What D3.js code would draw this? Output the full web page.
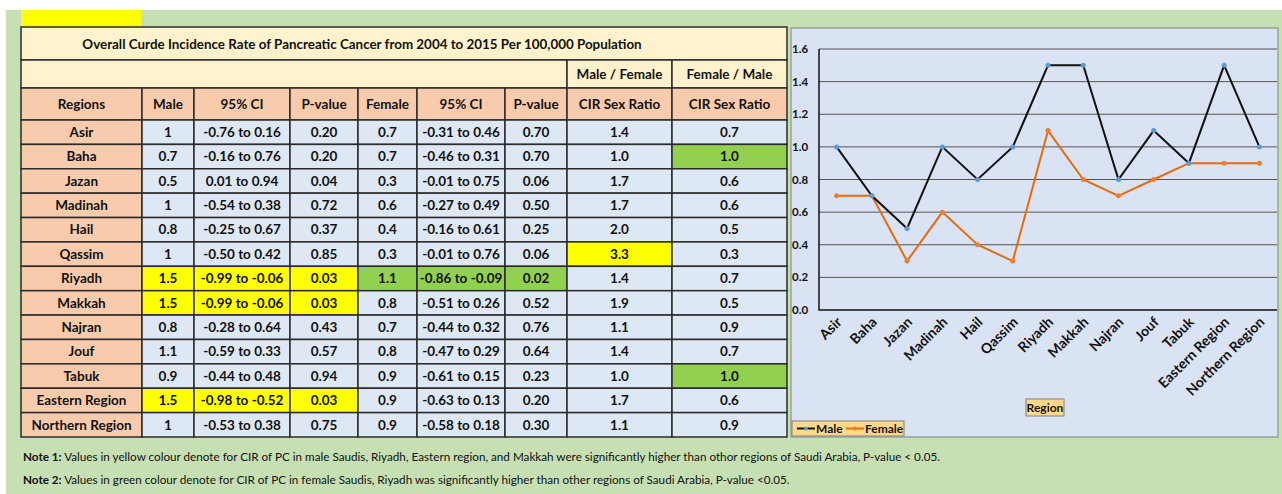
<!DOCTYPE html>
<html>
<head>
  <meta charset="utf-8">
  <title>Pancreatic Cancer CIR by Region</title>
  <script src="https://d3js.org/d3.v7.min.js"></script>
  <style>
    body { margin: 0; background: #fff; }
    text { font-family: Lato, "Open Sans", sans-serif; fill: #111; }
    .cell { stroke: #2b2b2b; stroke-width: 1.5px; }
    .grid line { stroke: #555; stroke-width: 1px; }
  </style>
</head>
<body>
  <script>
    const regions = ["Asir", "Baha", "Jazan", "Madinah", "Hail", "Qassim", "Riyadh", "Makkah", "Najran", "Jouf", "Tabuk", "Eastern Region", "Northern Region"];
    const male = [1, 0.7, 0.5, 1, 0.8, 1, 1.5, 1.5, 0.8, 1.1, 0.9, 1.5, 1];
    const maleCI = ["-0.76 to 0.16", "-0.16 to 0.76", "0.01 to 0.94", "-0.54 to 0.38", "-0.25 to 0.67", "-0.50 to 0.42", "-0.99 to -0.06", "-0.99 to -0.06", "-0.28 to 0.64", "-0.59 to 0.33", "-0.44 to 0.48", "-0.98 to -0.52", "-0.53 to 0.38"];
    const maleP = ["0.20", "0.20", "0.04", "0.72", "0.37", "0.85", "0.03", "0.03", "0.43", "0.57", "0.94", "0.03", "0.75"];
    const female = [0.7, 0.7, 0.3, 0.6, 0.4, 0.3, 1.1, 0.8, 0.7, 0.8, 0.9, 0.9, 0.9];
    const femaleCI = ["-0.31 to 0.46", "-0.46 to 0.31", "-0.01 to 0.75", "-0.27 to 0.49", "-0.16 to 0.61", "-0.01 to 0.76", "-0.86 to -0.09", "-0.51 to 0.26", "-0.44 to 0.32", "-0.47 to 0.29", "-0.61 to 0.15", "-0.63 to 0.13", "-0.58 to 0.18"];
    const femaleP = ["0.70", "0.70", "0.06", "0.50", "0.25", "0.06", "0.02", "0.52", "0.76", "0.64", "0.23", "0.20", "0.30"];
    const ratioMF = ["1.4", "1.0", "1.7", "1.7", "2.0", "3.3", "1.4", "1.9", "1.1", "1.4", "1.0", "1.7", "1.1"];
    const ratioFM = ["0.7", "1.0", "0.6", "0.6", "0.5", "0.3", "0.7", "0.5", "0.9", "0.7", "1.0", "0.6", "0.9"];
    const headers = ["Regions", "Male", "95% CI", "P-value", "Female", "95% CI", "P-value", "CIR Sex Ratio", "CIR Sex Ratio"];
    const yTicks = [0, 0.2, 0.4, 0.6, 0.8, 1.0, 1.2, 1.4, 1.6];

    // highlighted cells
    const yellowMale = ["Riyadh", "Makkah", "Eastern Region"];
    const greenFemale = ["Riyadh"];
    const yellowRatio = ["Qassim"];
    const greenRatio = ["Baha", "Tabuk"];

    const YELLOW = "#ffff00", GREEN = "#92d050", BLUE = "#dde8f4", SALMON = "#f8cbad", CREAM = "#fff2cc";

    const W = 1282, H = 494;
    const svg = d3.select("body").append("svg").attr("width", W).attr("height", H);

    // green background panel + yellow tab
    svg.append("rect").attr("x", 6).attr("y", 10).attr("width", W - 6).attr("height", H - 10).attr("fill", "#c6e0b4");
    svg.append("rect").attr("x", 21).attr("y", 10).attr("width", 120).attr("height", 17).attr("fill", YELLOW);

    // ---- table ----
    const colEdges = [21, 142, 194, 290, 358, 417, 505, 567, 672, 787];
    const tableTop = 27, row1 = 60, row2 = 88, row3 = 120, tableBottom = 437;
    const FS = 13.5;
    const g = svg.append("g");

    const rowY = d3.scaleBand().domain(regions).range([row3, tableBottom]);

    g.append("rect").attr("class", "cell").attr("x", colEdges[0]).attr("y", tableTop)
      .attr("width", colEdges[9] - colEdges[0]).attr("height", row1 - tableTop).attr("fill", CREAM);
    g.append("text").attr("x", 362).attr("y", 44).attr("dy", "0.35em").attr("text-anchor", "middle")
      .attr("font-weight", "bold").attr("font-size", 13.4)
      .text("Overall Curde Incidence Rate of Pancreatic Cancer from 2004 to 2015 Per 100,000 Population");

    g.append("rect").attr("class", "cell").attr("x", colEdges[0]).attr("y", row1)
      .attr("width", colEdges[7] - colEdges[0]).attr("height", row2 - row1).attr("fill", CREAM);
    ["Male / Female", "Female / Male"].forEach((t, i) => {
      g.append("rect").attr("class", "cell").attr("x", colEdges[7 + i]).attr("y", row1)
        .attr("width", colEdges[8 + i] - colEdges[7 + i]).attr("height", row2 - row1).attr("fill", CREAM);
      g.append("text").attr("x", (colEdges[7 + i] + colEdges[8 + i]) / 2).attr("y", (row1 + row2) / 2)
        .attr("dy", "0.35em").attr("text-anchor", "middle").attr("font-weight", "bold").attr("font-size", FS).text(t);
    });

    headers.forEach((h, i) => {
      g.append("rect").attr("class", "cell").attr("x", colEdges[i]).attr("y", row2)
        .attr("width", colEdges[i + 1] - colEdges[i]).attr("height", row3 - row2).attr("fill", SALMON);
      g.append("text").attr("x", (colEdges[i] + colEdges[i + 1]) / 2).attr("y", (row2 + row3) / 2)
        .attr("dy", "0.35em").attr("text-anchor", "middle").attr("font-weight", "bold").attr("font-size", FS).text(h);
    });

    const cellFill = (r, c) => {
      if (c === 0) return SALMON;
      if (c >= 1 && c <= 3 && yellowMale.includes(r)) return YELLOW;
      if (c >= 4 && c <= 6 && greenFemale.includes(r)) return GREEN;
      if (c === 7 && yellowRatio.includes(r)) return YELLOW;
      if (c === 8 && greenRatio.includes(r)) return GREEN;
      return BLUE;
    };

    regions.forEach((r, i) => {
      const vals = [r, male[i], maleCI[i], maleP[i], female[i], femaleCI[i], femaleP[i], ratioMF[i], ratioFM[i]];
      vals.forEach((v, c) => {
        g.append("rect").attr("class", "cell").attr("x", colEdges[c]).attr("y", rowY(r))
          .attr("width", colEdges[c + 1] - colEdges[c]).attr("height", rowY.bandwidth()).attr("fill", cellFill(r, c));
        g.append("text").attr("x", (colEdges[c] + colEdges[c + 1]) / 2).attr("y", rowY(r) + rowY.bandwidth() / 2)
          .attr("dy", "0.35em").attr("text-anchor", "middle").attr("font-weight", "bold").attr("font-size", FS).text(v);
      });
    });

    // notes
    const notes = [
      ["Note 1:", " Values in yellow colour denote for CIR of PC in male Saudis, Riyadh, Eastern region, and Makkah were significantly higher than othor regions of Saudi Arabia, P-value < 0.05."],
      ["Note 2:", " Values in green colour denote for CIR of PC in female Saudis, Riyadh was significantly higher than other regions of Saudi Arabia, P-value <0.05."]
    ];
    notes.forEach((n, i) => {
      const t = svg.append("text").attr("x", 23).attr("y", 457 + i * 23).attr("dy", "0.35em").attr("font-size", 11.7);
      t.append("tspan").attr("font-weight", "bold").text(n[0]);
      t.append("tspan").text(n[1]);
    });

    // ---- line chart ----
    const chart = { x: 791, y: 28, w: 487, h: 409 };
    svg.append("rect").attr("x", chart.x).attr("y", chart.y).attr("width", chart.w).attr("height", chart.h)
      .attr("fill", "#dae3f3").attr("stroke", "#808080").attr("stroke-width", 1);

    const plot = { left: 819, right: 1277, top: 49, bottom: 310 };
    const x = d3.scalePoint().domain(regions).range([plot.left, plot.right]).padding(0.5);
    const y = d3.scaleLinear().domain([0, 1.6]).range([plot.bottom, plot.top]);

    const grid = svg.append("g").attr("class", "grid");
    grid.selectAll("line").data(yTicks.slice(1)).join("line")
      .attr("x1", plot.left).attr("x2", plot.right).attr("y1", d => y(d)).attr("y2", d => y(d));

    svg.append("path").attr("d", `M${plot.left},${plot.top}V${plot.bottom}H${plot.right}`)
      .attr("fill", "none").attr("stroke", "#111").attr("stroke-width", 1.5);

    svg.append("g").selectAll("text").data(yTicks).join("text")
      .attr("x", 792).attr("y", d => y(d)).attr("dy", "0.35em").attr("font-size", 11.5).attr("font-weight", "bold")
      .text(d => d.toFixed(1));

    svg.append("g").selectAll("text").data(regions).join("text")
      .attr("transform", d => `translate(${x(d) + 6},${plot.bottom + 13}) rotate(-45)`)
      .attr("text-anchor", "end").attr("font-size", 14).attr("font-weight", "bold").text(d => d);

    const series = [
      { name: "Male", values: male, line: "#111", dot: "#5b9bd5" },
      { name: "Female", values: female, line: "#e46c0a", dot: "#ed7d31" }
    ];
    const lineGen = d3.line().x((d, i) => x(regions[i])).y(d => y(d));
    series.slice().reverse().forEach(s => {
      svg.append("path").attr("d", lineGen(s.values)).attr("fill", "none")
        .attr("stroke", s.line).attr("stroke-width", 2);
      svg.append("g").selectAll("circle").data(s.values).join("circle")
        .attr("cx", (d, i) => x(regions[i])).attr("cy", d => y(d)).attr("r", 2.5).attr("fill", s.dot);
    });

    // axis title box
    svg.append("rect").attr("x", 1026).attr("y", 399).attr("width", 38).attr("height", 17)
      .attr("fill", "#ffd98a").attr("stroke", "#7f7f7f");
    svg.append("text").attr("x", 1045).attr("y", 407.5).attr("dy", "0.35em").attr("text-anchor", "middle")
      .attr("font-size", 12).attr("font-weight", "bold").text("Region");

    // legend
    svg.append("rect").attr("x", 792).attr("y", 421).attr("width", 112).attr("height", 15)
      .attr("fill", "#ffd98a").attr("stroke", "#7f7f7f");
    const legendX = [797, 846];
    series.forEach((s, i) => {
      const lx = legendX[i];
      svg.append("line").attr("x1", lx).attr("x2", lx + 18).attr("y1", 428.5).attr("y2", 428.5)
        .attr("stroke", s.line).attr("stroke-width", 2);
      svg.append("circle").attr("cx", lx + 9).attr("cy", 428.5).attr("r", 2).attr("fill", s.dot);
      svg.append("text").attr("x", lx + 19).attr("y", 428.5).attr("dy", "0.35em")
        .attr("font-size", 12).attr("font-weight", "bold").text(s.name);
    });
  </script>
</body>
</html>
